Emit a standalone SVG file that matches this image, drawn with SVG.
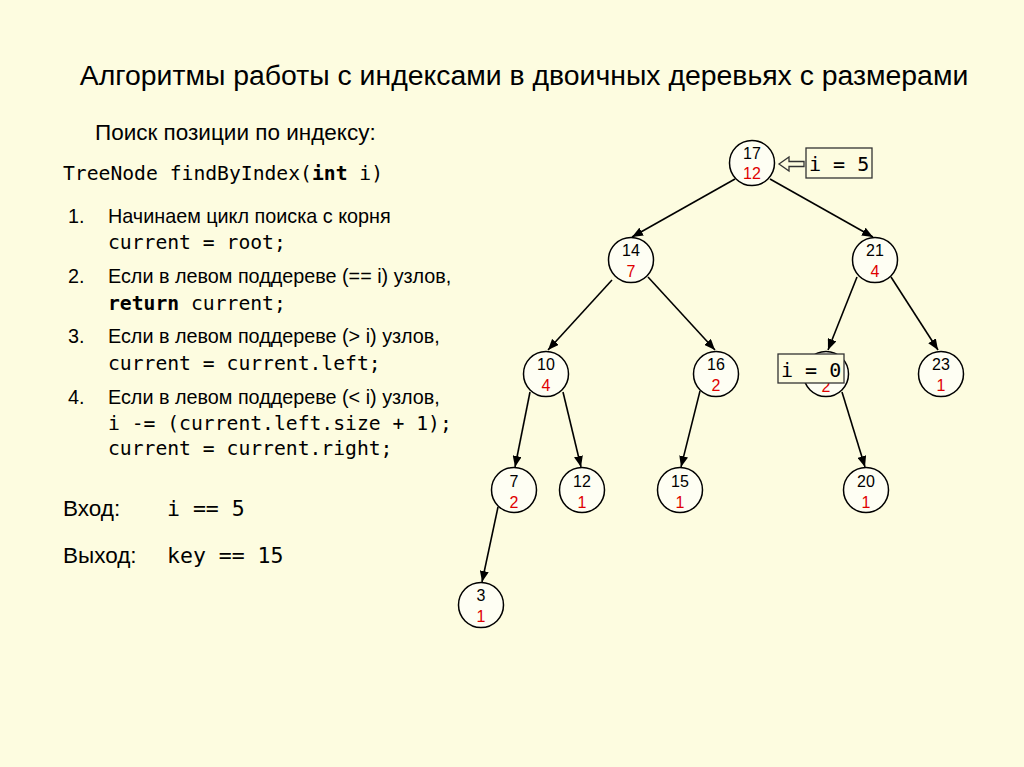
<svg xmlns="http://www.w3.org/2000/svg" width="1024" height="767" viewBox="0 0 1024 767">
<style>
.t{font-family:"Liberation Sans",Arial,sans-serif;fill:#000}
.m{font-family:"DejaVu Sans Mono","Liberation Mono",monospace;fill:#000}
.node circle{fill:#FEFEF3;stroke:#000;stroke-width:1.5}
.k{font-family:"Liberation Sans",Arial,sans-serif;font-size:16px;fill:#000;text-anchor:middle}
.s{font-family:"Liberation Sans",Arial,sans-serif;font-size:16px;fill:#E00000;text-anchor:middle}
.edges line{stroke:#000;stroke-width:1.6;marker-end:url(#ah)}
.box{fill:#FDFCE0;stroke:#333;stroke-width:1.3}
</style>
<defs>
<marker id="ah" markerUnits="userSpaceOnUse" markerWidth="11" markerHeight="9" refX="11" refY="4.5" orient="auto">
<path d="M0,0 L11,4.5 L0,9 z" fill="#000"/>
</marker>
</defs>
<rect x="0" y="0" width="1024" height="767" fill="#FDFCE0"/>

<text class="t" x="524" y="85" font-size="28.4" text-anchor="middle">Алгоритмы работы с индексами в двоичных деревьях с размерами</text>
<text class="t" x="95" y="140" font-size="22.5">Поиск позиции по индексу:</text>
<text class="m" x="63" y="180" font-size="19.7">TreeNode findByIndex(<tspan font-weight="bold">int</tspan> i)</text>

<g id="steps">
<text class="t" x="68" y="223" font-size="19.8">1.</text>
<text class="t" x="108" y="223" font-size="19.8">Начинаем цикл поиска с корня</text>
<text class="m" x="108" y="249" font-size="19.7">current = root;</text>
<text class="t" x="68" y="283" font-size="19.8">2.</text>
<text class="t" x="108" y="283" font-size="19.8">Если в левом поддереве (== i) узлов,</text>
<text class="m" x="108" y="310" font-size="19.7"><tspan font-weight="bold">return</tspan> current;</text>
<text class="t" x="68" y="343" font-size="19.8">3.</text>
<text class="t" x="108" y="343" font-size="19.8">Если в левом поддереве (&gt; i) узлов,</text>
<text class="m" x="108" y="370" font-size="19.7">current = current.left;</text>
<text class="t" x="68" y="404" font-size="19.8">4.</text>
<text class="t" x="108" y="404" font-size="19.8">Если в левом поддереве (&lt; i) узлов,</text>
<text class="m" x="108" y="430" font-size="19.7">i -= (current.left.size + 1);</text>
<text class="m" x="108" y="455" font-size="19.7">current = current.right;</text>
</g>

<text class="t" x="63" y="516" font-size="22.5">Вход:</text>
<text class="m" x="167" y="516" font-size="21.5" xml:space="preserve">i == 5</text>
<text class="t" x="63" y="563" font-size="22.5">Выход:</text>
<text class="m" x="167" y="563" font-size="21.5" xml:space="preserve">key == 15</text>

<g class="edges" id="connectors">
<line x1="735" y1="179" x2="632" y2="237"/>
<line x1="770" y1="179" x2="873" y2="237"/>
<line x1="612" y1="280" x2="548" y2="350"/>
<line x1="648" y1="277" x2="715" y2="350"/>
<line x1="857" y1="277" x2="828" y2="350"/>
<line x1="891" y1="277" x2="938" y2="350"/>
<line x1="530" y1="392" x2="515" y2="467"/>
<line x1="563" y1="392" x2="581" y2="467"/>
<line x1="700" y1="391" x2="681" y2="467"/>
<line x1="842" y1="392" x2="865" y2="467"/>
<line x1="498" y1="507" x2="482" y2="582"/>
</g>

<g class="node" id="n17"><circle cx="752" cy="163" r="22.5"/><text class="k" x="752" y="159">17</text><text class="s" x="752" y="179">12</text></g>
<g class="node" id="n14"><circle cx="631" cy="260" r="22.5"/><text class="k" x="631" y="256">14</text><text class="s" x="631" y="277">7</text></g>
<g class="node" id="n21"><circle cx="875" cy="260" r="22.5"/><text class="k" x="875" y="256">21</text><text class="s" x="875" y="277">4</text></g>
<g class="node" id="n10"><circle cx="546" cy="374" r="22.5"/><text class="k" x="546" y="370">10</text><text class="s" x="546" y="391">4</text></g>
<g class="node" id="n16"><circle cx="716" cy="374" r="22.5"/><text class="k" x="716" y="370">16</text><text class="s" x="716" y="391">2</text></g>
<g class="node" id="nHidden"><circle cx="826" cy="374" r="22.5"/><text class="s" x="826" y="392">2</text></g>
<g class="node" id="n23"><circle cx="941" cy="374" r="22.5"/><text class="k" x="941" y="370">23</text><text class="s" x="941" y="391">1</text></g>
<g class="node" id="n7"><circle cx="514" cy="490" r="22.5"/><text class="k" x="514" y="487">7</text><text class="s" x="514" y="508">2</text></g>
<g class="node" id="n12"><circle cx="582" cy="490" r="22.5"/><text class="k" x="582" y="487">12</text><text class="s" x="582" y="508">1</text></g>
<g class="node" id="n15"><circle cx="680" cy="490" r="22.5"/><text class="k" x="680" y="487">15</text><text class="s" x="680" y="508">1</text></g>
<g class="node" id="n20"><circle cx="866" cy="490" r="22.5"/><text class="k" x="866" y="487">20</text><text class="s" x="866" y="508">1</text></g>
<g class="node" id="n3"><circle cx="481" cy="605" r="22.5"/><text class="k" x="481" y="601">3</text><text class="s" x="481" y="622">1</text></g>

<g id="pointer5">
<polygon class="box" points="779,164 789,157 789,161.5 804,161.5 804,166.5 789,166.5 789,171"/>
<rect class="box" x="806" y="148" width="66" height="30"/>
<text class="m" x="809" y="171" font-size="20" xml:space="preserve">i = 5</text>
</g>
<g id="pointer0">
<rect class="box" x="778" y="354" width="66" height="29"/>
<text class="m" x="781" y="377" font-size="20" xml:space="preserve">i = 0</text>
</g>
</svg>
